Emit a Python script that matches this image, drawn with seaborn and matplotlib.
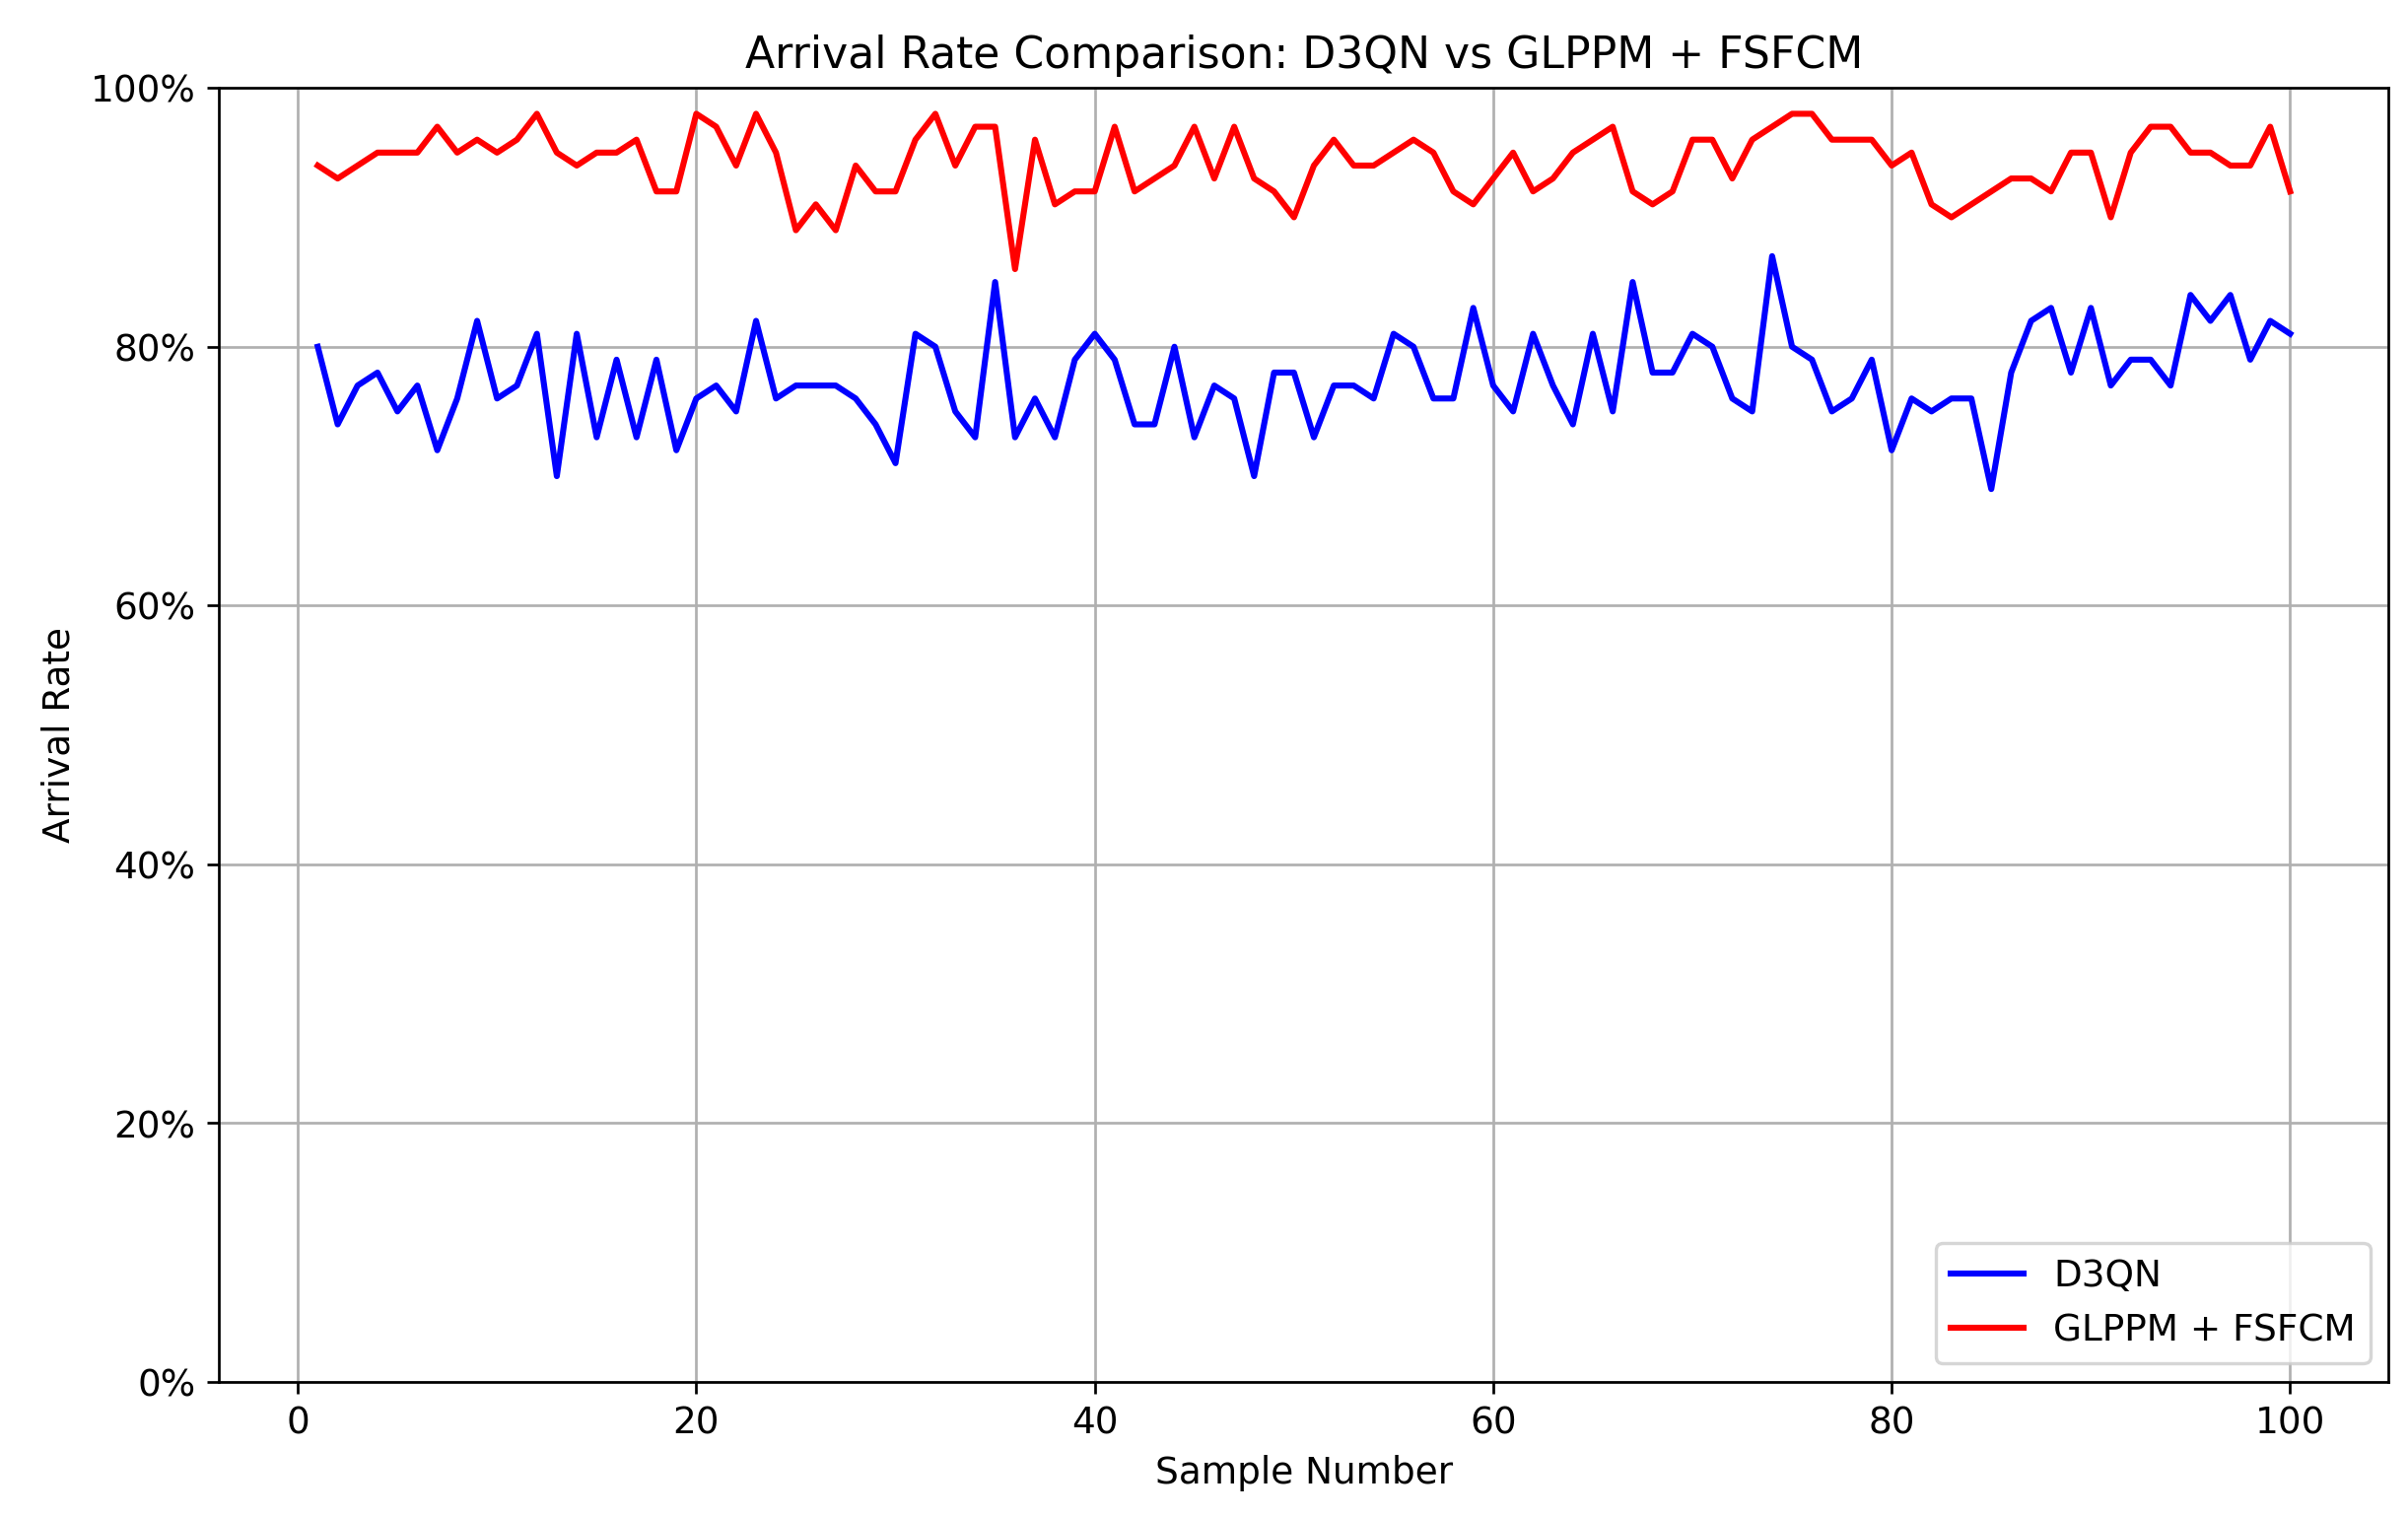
import numpy as np
import pandas as pd
import seaborn as sns
import matplotlib.pyplot as plt
from matplotlib.ticker import PercentFormatter

samples = list(range(1, 101))

d3qn = [80, 74, 77, 78, 75, 77, 72, 76, 82, 76, 77, 81, 70, 81, 73, 79, 73, 79, 72, 76,
        77, 75, 82, 76, 77, 77, 77, 76, 74, 71, 81, 80, 75, 73, 85, 73, 76, 73, 79, 81,
        79, 74, 74, 80, 73, 77, 76, 70, 78, 78, 73, 77, 77, 76, 81, 80, 76, 76, 83, 77,
        75, 81, 77, 74, 81, 75, 85, 78, 78, 81, 80, 76, 75, 87, 80, 79, 75, 76, 79, 72,
        76, 75, 76, 76, 69, 78, 82, 83, 78, 83, 77, 79, 79, 77, 84, 82, 84, 79, 82, 81]

glppm_fsfcm = [94, 93, 94, 95, 95, 95, 97, 95, 96, 95, 96, 98, 95, 94, 95, 95, 96, 92, 92, 98,
               97, 94, 98, 95, 89, 91, 89, 94, 92, 92, 96, 98, 94, 97, 97, 86, 96, 91, 92, 92,
               97, 92, 93, 94, 97, 93, 97, 93, 92, 90, 94, 96, 94, 94, 95, 96, 95, 92, 91, 93,
               95, 92, 93, 95, 96, 97, 92, 91, 92, 96, 96, 93, 96, 97, 98, 98, 96, 96, 96, 94,
               95, 91, 90, 91, 92, 93, 93, 92, 95, 95, 90, 95, 97, 97, 95, 95, 94, 94, 97, 92]

df = pd.DataFrame({"sample": samples, "D3QN": d3qn, "GLPPM + FSFCM": glppm_fsfcm})

fig, ax = plt.subplots(figsize=(10, 6.3), dpi=244.3)
sns.lineplot(data=df, x="sample", y="D3QN", color="blue", label="D3QN", ax=ax, linewidth=1.8)
sns.lineplot(data=df, x="sample", y="GLPPM + FSFCM", color="red", label="GLPPM + FSFCM",
             ax=ax, linewidth=1.8)

ax.set_ylim(0, 100)
ax.yaxis.set_major_formatter(PercentFormatter(100, decimals=0))
ax.set_title("Arrival Rate Comparison: D3QN vs GLPPM + FSFCM", fontsize=13)
ax.set_xlabel("Sample Number", fontsize=11)
ax.set_ylabel("Arrival Rate", fontsize=11)
ax.tick_params(labelsize=11)
ax.grid(True)
ax.legend(loc="lower right", fontsize=11)

fig.subplots_adjust(left=0.091, right=0.992, top=0.942, bottom=0.089)
plt.savefig("out.png")
